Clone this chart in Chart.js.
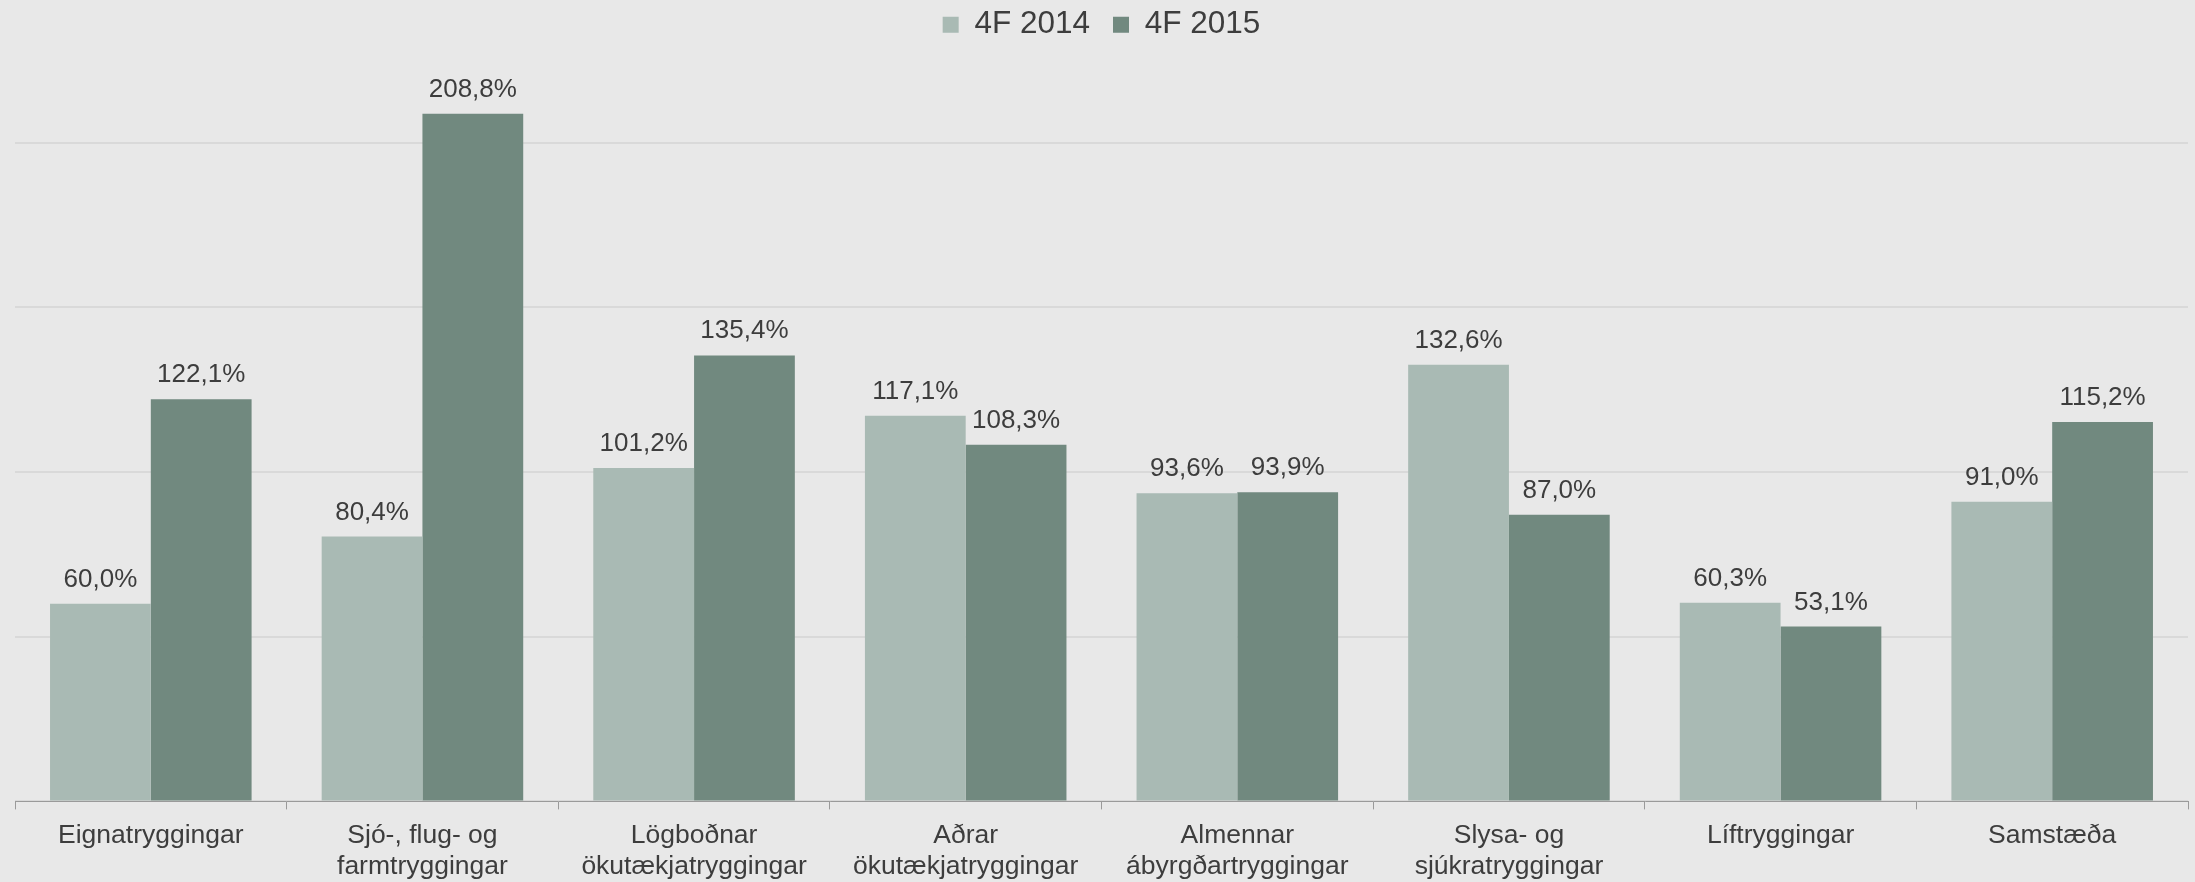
<!DOCTYPE html>
<html>
<head>
<meta charset="utf-8">
<script src="https://cdn.jsdelivr.net/npm/chart.js@4.4.0/dist/chart.umd.min.js"></script>
<style>
html,body{margin:0;padding:0;background:#e8e8e8;overflow:hidden;}
#wrap{width:2195px;height:882px;}
</style>
</head>
<body>
<div id="wrap"><canvas id="c" width="2195" height="882"></canvas></div>
<script>
const categories = [
  "Eignatryggingar",
  ["Sjó-, flug- og", "farmtryggingar"],
  ["Lögboðnar", "ökutækjatryggingar"],
  ["Aðrar", "ökutækjatryggingar"],
  ["Almennar", "ábyrgðartryggingar"],
  ["Slysa- og", "sjúkratryggingar"],
  "Líftryggingar",
  "Samstæða"
];
const series2014 = [60.0, 80.4, 101.2, 117.1, 93.6, 132.6, 60.3, 91.0];
const series2015 = [122.1, 208.8, 135.4, 108.3, 93.9, 87.0, 53.1, 115.2];
const seriesNames = ["4F 2014", "4F 2015"];

const FONT = "'Liberation Sans', Arial, sans-serif";
const TEXT = "#3d3d3d";

const bgPlugin = {
  id: 'bg',
  beforeDraw(chart) {
    const ctx = chart.ctx;
    ctx.save();
    ctx.fillStyle = '#e8e8e8';
    ctx.fillRect(0, 0, chart.width, chart.height);
    ctx.restore();
  }
};

const labelPlugin = {
  id: 'valueLabels',
  afterDatasetsDraw(chart) {
    const ctx = chart.ctx;
    ctx.save();
    ctx.font = "26px " + FONT;
    ctx.fillStyle = TEXT;
    ctx.textAlign = 'center';
    ctx.textBaseline = 'alphabetic';
    chart.data.datasets.forEach((ds, di) => {
      const meta = chart.getDatasetMeta(di);
      meta.data.forEach((bar, i) => {
        const v = ds.data[i];
        const txt = v.toFixed(1).replace('.', ',') + '%';
        ctx.fillText(txt, bar.x, bar.y - 17);
      });
    });
    ctx.restore();
  }
};

new Chart(document.getElementById('c'), {
  type: 'bar',
  data: {
    labels: categories,
    datasets: [
      { label: seriesNames[0], data: series2014, backgroundColor: '#a9bab4', borderWidth: 0 },
      { label: seriesNames[1], data: series2015, backgroundColor: '#71897f', borderWidth: 0 }
    ]
  },
  options: {
    responsive: false,
    animation: false,
    devicePixelRatio: 1,
    layout: { padding: { left: 15, right: 7, top: -14, bottom: -11 } },
    datasets: { bar: { categoryPercentage: 0.742, barPercentage: 1.0 } },
    plugins: {
      legend: {
        display: true,
        position: 'top',
        labels: {
          font: { family: FONT, size: 31.5 },
          color: TEXT,
          boxWidth: 16,
          boxHeight: 16,
          padding: 23
        }
      },
      tooltip: { enabled: false },
      title: { display: false }
    },
    scales: {
      x: {
        grid: { display: true, offset: true, drawOnChartArea: false, drawTicks: true, tickLength: 8, color: '#9a9a9a', lineWidth: 1 },
        border: { display: true, color: '#9a9a9a', width: 1 },
        ticks: { font: { family: FONT, size: 26.5 }, color: TEXT, padding: 10, maxRotation: 0, autoSkip: false }
      },
      y: {
        min: 0, max: 228,
        ticks: { display: false, stepSize: 50 },
        border: { display: false },
        grid: {
          color: (c) => (c.tick && c.tick.value % 50 === 0) ? '#d9d9d9' : 'rgba(0,0,0,0)',
          lineWidth: 2, drawTicks: false
        }
      }
    }
  },
  plugins: [bgPlugin, labelPlugin]
});
</script>
</body>
</html>
